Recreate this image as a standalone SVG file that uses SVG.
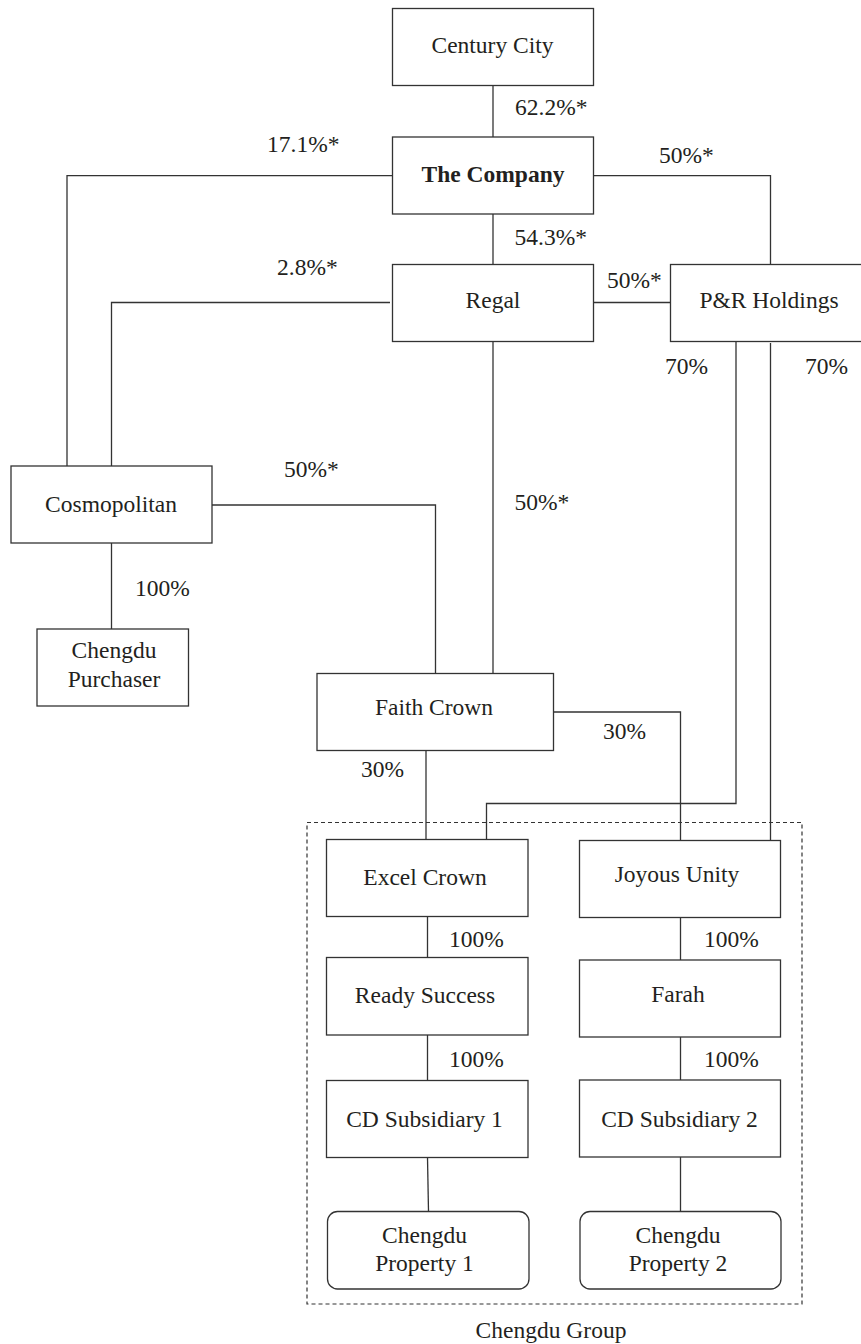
<svg xmlns="http://www.w3.org/2000/svg" width="861" height="1344" viewBox="0 0 861 1344">
<style>
.box{fill:#fff;stroke:#333;stroke-width:1.3}
.ln{fill:none;stroke:#333;stroke-width:1.3}
.dash{fill:none;stroke:#333;stroke-width:1.2;stroke-dasharray:4,3}
text{font-family:"Liberation Serif","Times New Roman",serif;font-size:23.5px;fill:#231f20}
.c{text-anchor:middle}
.b{font-weight:bold}
</style>
<rect width="861" height="1344" fill="#fff"/>
<g id="connectors">
<path class="ln" d="M493,85 V137"/>
<path class="ln" d="M392,175.7 H67 V466"/>
<path class="ln" d="M593.5,175.7 H770.5 V264.5"/>
<path class="ln" d="M493,214 V264.5"/>
<path class="ln" d="M390,302.5 H111.5 V466"/>
<path class="ln" d="M593.5,302.5 H670.5"/>
<path class="ln" d="M493,341.5 V673.5"/>
<path class="ln" d="M212,505 H435.5 V673.5"/>
<path class="ln" d="M111.5,543 V629"/>
<path class="ln" d="M736,341.5 V803.5 H486.5 V839.5"/>
<path class="ln" d="M770.5,343 V840.5"/>
<path class="ln" d="M553.5,712 H680.5 V840.5"/>
<path class="ln" d="M426,750.5 V839.5"/>
<path class="ln" d="M427.5,916 V957.5"/>
<path class="ln" d="M680.5,917.5 V960"/>
<path class="ln" d="M427.5,1035 V1080.5"/>
<path class="ln" d="M680.5,1037 V1080"/>
<path class="ln" d="M427.5,1157.5 L428.5,1211.5"/>
<path class="ln" d="M680.5,1157 V1211.5"/>
</g>
<g id="labels">
<text x="515" y="115">62.2%*</text>
<text x="267" y="152">17.1%*</text>
<text x="659" y="163">50%*</text>
<text x="514.5" y="245">54.3%*</text>
<text x="277" y="275">2.8%*</text>
<text x="607" y="288">50%*</text>
<text x="665" y="374">70%</text>
<text x="805" y="374">70%</text>
<text x="284" y="477">50%*</text>
<text x="514.5" y="510">50%*</text>
<text x="135" y="596">100%</text>
<text x="603" y="739">30%</text>
<text x="361" y="777">30%</text>
<text x="449" y="947">100%</text>
<text x="704" y="947">100%</text>
<text x="449" y="1067">100%</text>
<text x="704" y="1067">100%</text>
</g>
<g id="chengdu-group">
<rect class="dash" x="307" y="822.5" width="495" height="481.5"/>
<text class="c" x="551" y="1338">Chengdu Group</text>
</g>
<g id="century-city">
<rect class="box" x="392.5" y="8.5" width="201" height="77"/>
<text class="c" x="492.5" y="53">Century City</text>
</g>
<g id="the-company">
<rect class="box" x="392.5" y="137" width="201" height="77"/>
<text class="c b" x="493" y="182">The Company</text>
</g>
<g id="regal">
<rect class="box" x="392.5" y="264.5" width="201" height="77"/>
<text class="c" x="493" y="308">Regal</text>
</g>
<g id="pr-holdings">
<rect class="box" x="670.5" y="264.5" width="198" height="77"/>
<text class="c" x="769" y="308">P&amp;R Holdings</text>
</g>
<g id="cosmopolitan">
<rect class="box" x="11" y="466" width="201" height="77"/>
<text class="c" x="111" y="512">Cosmopolitan</text>
</g>
<g id="chengdu-purchaser">
<rect class="box" x="37" y="629" width="151.5" height="77"/>
<text class="c" x="114" y="658">Chengdu</text>
<text class="c" x="114" y="687">Purchaser</text>
</g>
<g id="faith-crown">
<rect class="box" x="317" y="673.5" width="236.5" height="77"/>
<text class="c" x="434" y="715">Faith Crown</text>
</g>
<g id="excel-crown">
<rect class="box" x="326.5" y="839.5" width="201.5" height="77"/>
<text class="c" x="425" y="885">Excel Crown</text>
</g>
<g id="joyous-unity">
<rect class="box" x="579.5" y="840.5" width="201" height="77"/>
<text class="c" x="677" y="882">Joyous Unity</text>
</g>
<g id="ready-success">
<rect class="box" x="326.5" y="957.5" width="201.5" height="77.5"/>
<text class="c" x="425" y="1003">Ready Success</text>
</g>
<g id="farah">
<rect class="box" x="579.5" y="960" width="201" height="77"/>
<text class="c" x="678" y="1002">Farah</text>
</g>
<g id="cd-subsidiary-1">
<rect class="box" x="326.5" y="1080.5" width="201.5" height="77"/>
<text class="c" x="424.5" y="1127">CD Subsidiary 1</text>
</g>
<g id="cd-subsidiary-2">
<rect class="box" x="579.5" y="1080" width="201" height="77"/>
<text class="c" x="679.5" y="1127">CD Subsidiary 2</text>
</g>
<g id="chengdu-property-1">
<rect class="box" x="327.5" y="1211.5" width="201.5" height="77.5" rx="10"/>
<text class="c" x="424.5" y="1243">Chengdu</text>
<text class="c" x="424.5" y="1271">Property 1</text>
</g>
<g id="chengdu-property-2">
<rect class="box" x="580" y="1211.5" width="201" height="77.5" rx="10"/>
<text class="c" x="678" y="1243">Chengdu</text>
<text class="c" x="678" y="1271">Property 2</text>
</g>
</svg>
